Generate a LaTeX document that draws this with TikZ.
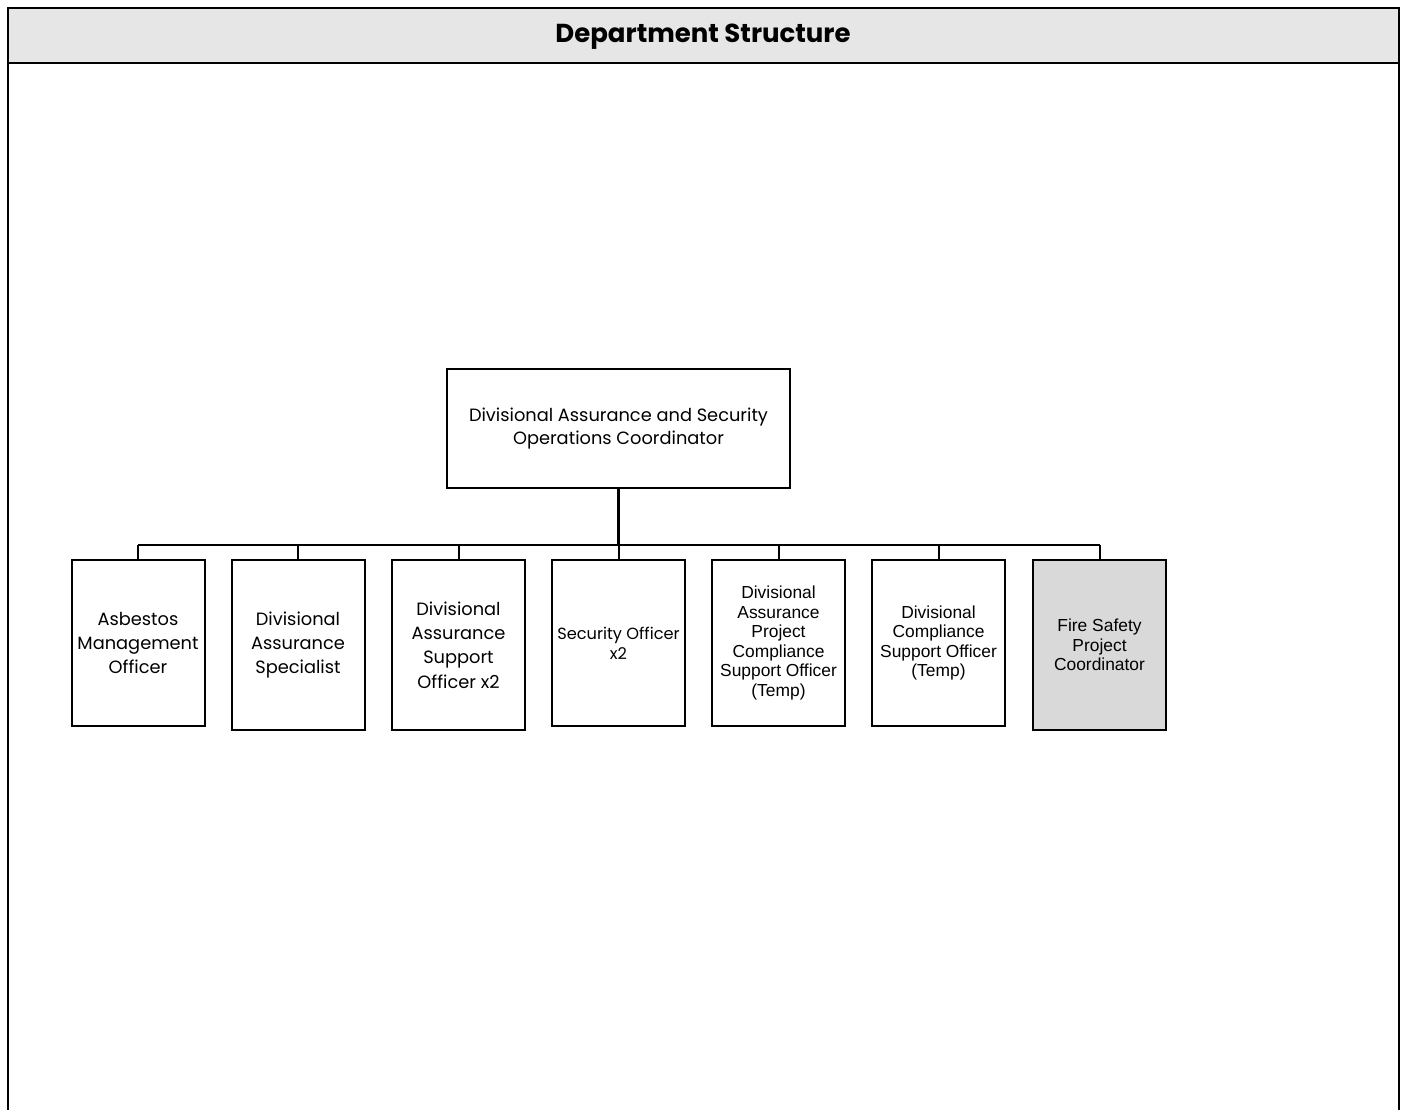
\documentclass[tikz,border=0pt]{standalone}
\usepackage{fontspec}
\setmainfont{Poppins}
\newfontfamily\aptosfont{Liberation Sans}
\usepackage{tikz}

\definecolor{headgray}{RGB}{230,230,230}
\definecolor{boxgray}{RGB}{217,217,217}

\tikzset{
  post/.style={draw,line width=1pt,align=center,minimum width=66.5pt,
    minimum height=83pt,inner sep=1pt,font=\fontsize{8.9}{12}\selectfont},
  posttwo/.style={post,font=\aptosfont\fontsize{8.7}{9.8}\selectfont},
  link/.style={line width=1pt}
}

\begin{document}
\begin{tikzpicture}[x=0.5pt,y=-0.5pt]
        \useasboundingbox (0,0) rectangle (1406,1110);

        % frame and header
        \fill[headgray] (8,8) rectangle (1399,63);
        \draw[line width=1.2pt] (8,1110) -- (8,8) -- (1399,8) -- (1399,1110);
        \draw[line width=1.2pt] (8,63) -- (1399,63);
        \node (title) at (703,37) {\fontsize{13}{15}\selectfont\bfseries Department Structure};

        \node[post,minimum width=171.5pt,minimum height=59.5pt,line width=1.2pt,
          font=\fontsize{8.9}{11.5}\selectfont] (head) at (618.5,428.5)
          {Divisional Assurance and Security\\Operations Coordinator};

        \coordinate (bus) at (618.5,545);

        \node[post] (asb) at (138,643) {Asbestos\\Management\\Officer};
        \node[post,minimum height=85pt] (spec) at (298,645) {Divisional\\Assurance\\Specialist};
        \node[post,minimum height=85pt,font=\fontsize{8.9}{12.2}\selectfont] (supp) at (458.5,645)
          {Divisional\\Assurance\\Support\\Officer x2};
        \node[post,font=\fontsize{8.1}{9.8}\selectfont] (sec) at (618.5,643) {Security Officer\\x2};
        \node[posttwo] (proj) at (778.5,643)
          {Divisional\\Assurance\\Project\\Compliance\\Support Officer\\(Temp)};
        \node[posttwo] (comp) at (938.5,643)
          {Divisional\\Compliance\\Support Officer\\(Temp)};
        \node[posttwo,fill=boxgray,minimum height=85pt] (fire) at (1099.5,645)
          {Fire Safety\\Project\\Coordinator};

        % connectors
        \draw[line width=1.5pt] (head.south) -- (bus);
        \draw[link] (asb.north |- bus) -- (fire.north |- bus);
        \draw[link] (asb.north) -- (asb.north |- bus);
        \draw[link] (spec.north) -- (spec.north |- bus);
        \draw[link] (supp.north) -- (supp.north |- bus);
        \draw[link] (sec.north) -- (sec.north |- bus);
        \draw[link] (proj.north) -- (proj.north |- bus);
        \draw[link] (comp.north) -- (comp.north |- bus);
        \draw[link] (fire.north) -- (fire.north |- bus);
\end{tikzpicture}
\end{document}
